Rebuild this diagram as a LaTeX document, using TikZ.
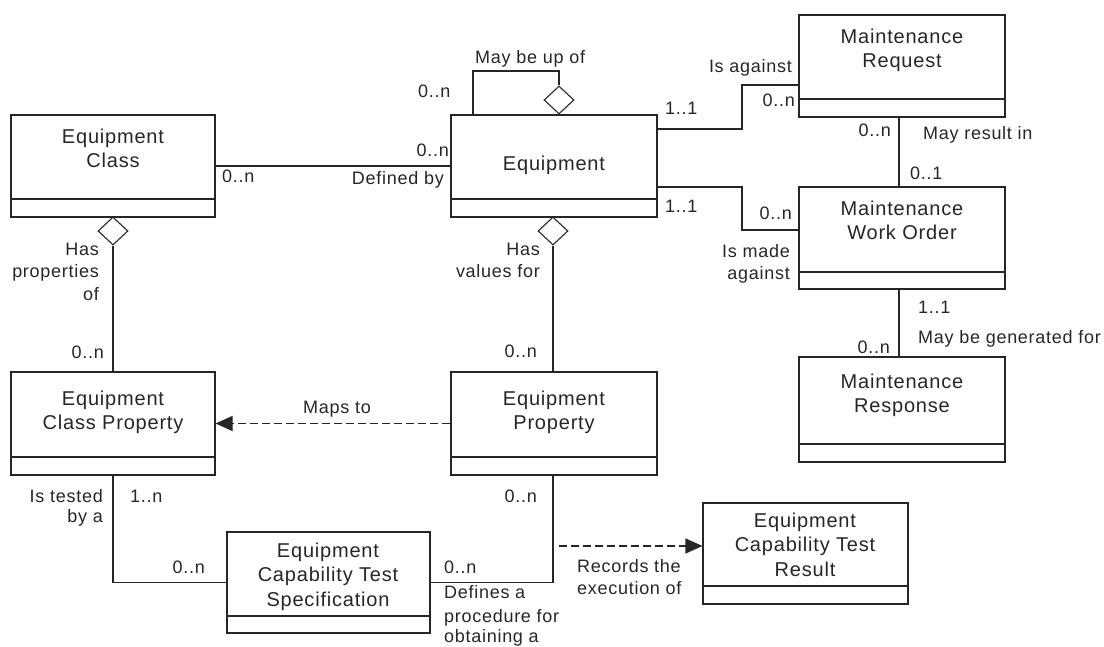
\documentclass[tikz,border=0pt]{standalone}
\usepackage{fontspec}
\setmainfont{Liberation Sans}[LetterSpace=4]
\usetikzlibrary{shapes.geometric,arrows.meta}
\newcommand\tfl{\rule{0pt}{15pt}}
\newcommand\lfl{\rule{0pt}{13.5pt}}
\tikzset{
  line/.style={line width=1.1pt, draw=black!85},
  box/.style={line, rectangle, inner sep=0pt},
  agg/.style={line, diamond, fill=white, inner sep=0pt, minimum width=30pt, minimum height=28pt},
  title/.style={font=\fontsize{20}{24.5}\selectfont, align=center, inner sep=0pt, anchor=north, text=black!85},
  lab/.style={font=\fontsize{18}{22.5}\selectfont, inner sep=0pt, text=black!85},
  dep/.style={line, dash pattern=on 8pt off 4pt, -{Triangle[length=17pt,width=15pt]}},
}
\newcommand\umlbox[6]{%
  \node[box, minimum width={#4pt-#2pt}, minimum height={#5pt-#3pt}] (#1) at ({(#2+#4)/2},{(#3+#5)/2}) {};
  \draw[line] (#1.west |- 0,#6) -- (#1.east |- 0,#6);}
\begin{document}
\begin{tikzpicture}[x=1pt,y=-1pt]
\useasboundingbox (0,0) rectangle (1104,647);
% boxes
\umlbox{ec}{11}{115}{215}{217}{199}
\umlbox{eq}{451}{115}{657}{217}{199}
\umlbox{mr}{799}{15}{1005}{117}{99}
\umlbox{mwo}{799}{187}{1005}{289}{272}
\umlbox{resp}{799}{357}{1005}{462}{444}
\umlbox{ecp}{11}{372}{215}{475}{457}
\umlbox{ep}{451}{372}{657}{475}{457}
\umlbox{ects}{227}{532}{430}{633}{616}
\umlbox{ectr}{703}{503}{908}{604}{586}
% titles
\node[title] (ec-t) at (113,128) {\tfl Equipment\\Class};
\node[title] (eq-t) at (554,155) {\tfl Equipment};
\node[title] (mr-t) at (902,28) {\tfl Maintenance\\Request};
\node[title] (mwo-t) at (902,200) {\tfl Maintenance\\Work Order};
\node[title] (resp-t) at (902,373) {\tfl Maintenance\\Response};
\node[title] (ecp-t) at (113,390) {\tfl Equipment\\Class Property};
\node[title] (ep-t) at (554,390) {\tfl Equipment\\Property};
\node[title] (ects-t) at (328,542) {\tfl Equipment\\Capability Test\\Specification};
\node[title] (ectr-t) at (805,512) {\tfl Equipment\\Capability Test\\Result};
% aggregation diamonds
\node[agg] (d1) at (559,100) {};
\node[agg] (d2) at (113,231) {};
\node[agg] (d3) at (553,231) {};
% connectors
\coordinate (loopc) at (473,71);
\draw[line] (d1.north) |- (loopc) -- (loopc |- eq.north);
\draw[line] (ec.east) -- (ec.east -| eq.west);
\coordinate (j1) at (742,85);
\coordinate (j2) at (742,230);
\draw[line] (eq.east |- 0,129) -| (j1) -- (j1 -| mr.west);
\draw[line] (eq.east |- 0,187) -| (j2) -- (j2 -| mwo.west);
\draw[line] (mr.south -| 899,0) -- (mwo.north -| 899,0);
\draw[line] (mwo.south -| 899,0) -- (resp.north -| 899,0);
\draw[line] (d2.south) -- (ecp.north);
\draw[line] (d3.south) -- (d3.south |- ep.north);
\draw[dep] (ep.west) -- (ecp.east);
\draw[line] (ecp.south) |- (ects.west);
\draw[line] (ep.south -| 553,0) |- (ects.east);
\coordinate (rec) at (559,546);
\draw[dep] (rec) -- (rec -| ectr.west);
% labels
\node[lab, anchor=base west] (l1) at (475,64) {May be up of};
\node[lab, anchor=base west] (l2) at (418,98) {0..n};
\node[lab, anchor=base west] (l3) at (665,115) {1..1};
\node[lab, anchor=base east] (l4) at (449,157) {0..n};
\node[lab, anchor=base east] (l5) at (444,185) {Defined by};
\node[lab, anchor=base west] (l6) at (222,183) {0..n};
\node[lab, anchor=base west] (l7) at (665,213) {1..1};
\node[lab, anchor=base east] (l8) at (792,73) {Is against};
\node[lab, anchor=base east] (l9) at (795,107) {0..n};
\node[lab, anchor=base east] (l10) at (891,137) {0..n};
\node[lab, anchor=base west] (l11) at (923,140) {May result in};
\node[lab, anchor=base west] (l12) at (910,180) {0..1};
\node[lab, anchor=base east] (l13) at (792,220) {0..n};
\node[lab, anchor=north east, align=right] (l14) at (790,243.5) {\lfl Is made\\against};
\node[lab, anchor=base west] (l15) at (918,313) {1..1};
\node[lab, anchor=base west] (l16) at (918,343) {May be generated for};
\node[lab, anchor=base east] (l17) at (890,353) {0..n};
\node[lab, anchor=north east, align=right] (l18) at (99,241.5) {\lfl Has\\properties\\of};
\node[lab, anchor=base east] (l19) at (104,358) {0..n};
\node[lab, anchor=north east, align=right] (l20) at (540,241.5) {\lfl Has\\values for};
\node[lab, anchor=base west] (l21) at (303,413) {Maps to};
\node[lab, anchor=north east, align=right] (l22) at (103,488.5) {\lfl Is tested\\[-2.5pt]by a};
\node[lab, anchor=base west] (l23) at (130,502) {1..n};
\node[lab, anchor=base east] (l24) at (205,573) {0..n};
\node[lab, anchor=base east] (l25) at (537,357) {0..n};
\node[lab, anchor=base east] (l26) at (537,502) {0..n};
\node[lab, anchor=base west] (l27) at (444,573) {0..n};
\node[lab, anchor=north west, align=left] (l28) at (444,584.5) {\lfl Defines a\\[2pt]procedure for\\[-2.5pt]obtaining a};
\node[lab, anchor=north west, align=left] (l29) at (577,558.5) {\lfl Records the\\execution of};
\end{tikzpicture}
\end{document}
